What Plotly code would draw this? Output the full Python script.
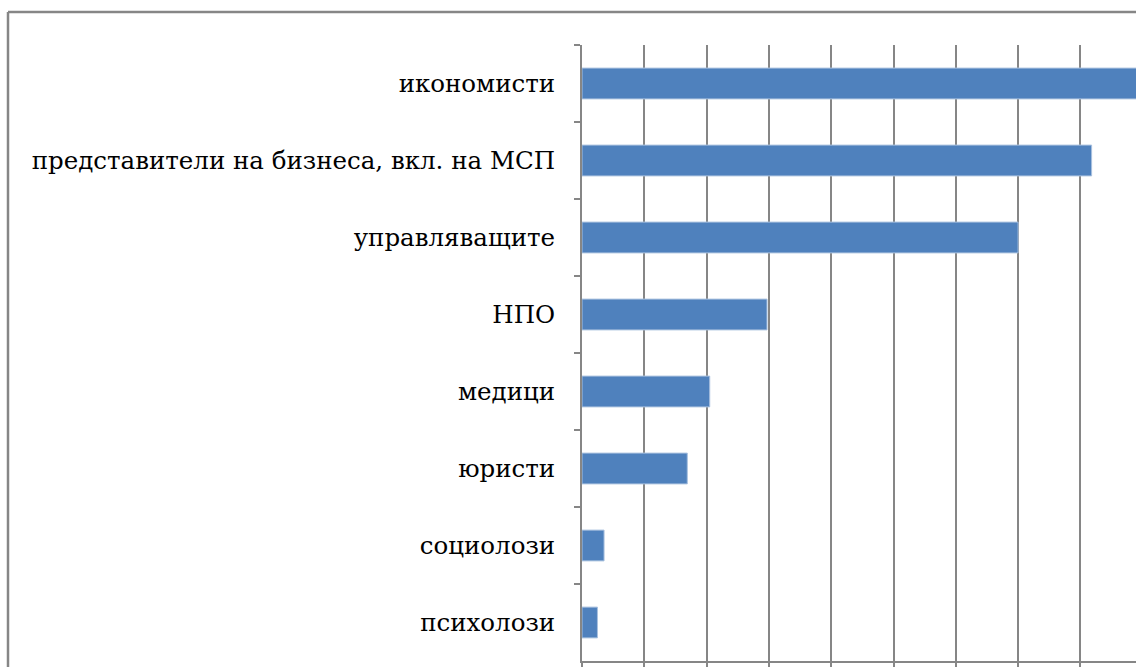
import plotly.graph_objects as go

categories = ["икономисти", "представители на бизнеса, вкл. на МСП", "управляващите",
              "НПО", "медици", "юристи", "социолози", "психолози"]
values = [48.0, 40.9, 35.0, 14.85, 10.25, 8.45, 1.77, 1.24]

W, H = 1136, 667
L, R, T, B = 582, 0, 45, 4
unit_px = 62.3
dtick = 5
xmax = (W - L - R) / unit_px * dtick

fig = go.Figure(go.Bar(
    x=values, y=categories, orientation="h",
    marker=dict(color="#4F81BD", line=dict(color="#A9C1DF", width=1)),
))

grid = "#868686"
fig.update_layout(
    width=W, height=H,
    margin=dict(l=L, r=R, t=T, b=B, pad=0),
    paper_bgcolor="white", plot_bgcolor="white",
    bargap=0.6, showlegend=False,
    font=dict(family="DejaVu Serif", size=24.5, color="black"),
    xaxis=dict(range=[0, xmax], dtick=dtick, showgrid=True, gridcolor=grid, gridwidth=1.5,
               showticklabels=False, ticks="outside", ticklen=6, tickcolor=grid, tickwidth=1.5,
               showline=True, linecolor=grid, linewidth=2, zeroline=False, fixedrange=True),
    yaxis=dict(autorange="reversed", type="category", showgrid=False, tickson="boundaries",
               ticks="outside", ticklen=6, tickcolor=grid, tickwidth=1.5,
               tickfont=dict(family="DejaVu Serif", size=24.5, color="black"),
               showline=True, linecolor=grid, linewidth=2, ticklabelstandoff=20),
)

# outer chart-area border (only top and left edges are visible in the crop)
x8 = (8 - L) / (W - L - R)
y12 = (H - B - 12) / (H - T - B)
fig.add_shape(type="line", xref="paper", yref="paper", x0=x8, x1=1.2, y0=y12, y1=y12,
              line=dict(color=grid, width=2.5), layer="above")
fig.add_shape(type="line", xref="paper", yref="paper", x0=x8, x1=x8, y0=y12, y1=-0.2,
              line=dict(color=grid, width=2.5), layer="above")

fig.write_html("out.html", config={"displayModeBar": False},
               post_script="document.body.style.margin='0';document.body.style.overflow='hidden';")
